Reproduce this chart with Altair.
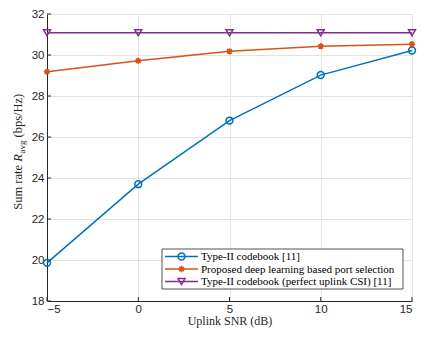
import altair as alt
import pandas as pd

# ---- data ----
snr = [-5, 0, 5, 10, 15]
type2 = [19.86, 23.70, 26.80, 29.02, 30.22]
proposed = [29.18, 29.72, 30.18, 30.43, 30.53]
perfect = [31.08, 31.08, 31.08, 31.08, 31.08]
labels = [
    "Type-II codebook [11]",
    "Proposed deep learning based port selection",
    "Type-II codebook (perfect uplink CSI) [11]",
]
colors = ["#0072BD", "#D95319", "#7E2F8E"]
x_ticks = [-5, 0, 5, 10, 15]
y_ticks = [18, 20, 22, 24, 26, 28, 30, 32]

ASTERISK = "M0,-1L0,1M-1,0L1,0M-0.72,-0.72L0.72,0.72M-0.72,0.72L0.72,-0.72"
shapes = ["circle", ASTERISK, "triangle-down"]
sizes = [48, 40, 48]

W, H = 365, 287
AX = "#262626"

xs = alt.Scale(domain=[-5, 15], nice=False, zero=False)
ys = alt.Scale(domain=[18, 32], nice=False, zero=False)
x_axis = alt.Axis(values=x_ticks, title="Uplink SNR (dB)", labelPadding=2,
                  titlePadding=1, grid=True, format="d")
y_axis = alt.Axis(values=y_ticks, title=None, labelPadding=3, grid=True, format="d")

X = alt.X("snr:Q", scale=xs, axis=x_axis)
Y = alt.Y("rate:Q", scale=ys, axis=y_axis)

one = pd.DataFrame({"a": [0]})
layers = []

# inward tick marks
layers.append(alt.Chart(pd.DataFrame({"snr": x_ticks})).mark_rule(color=AX, strokeWidth=1)
              .encode(x=X, y=alt.value(H), y2=alt.value(H - 4)))
layers.append(alt.Chart(pd.DataFrame({"rate": y_ticks})).mark_rule(color=AX, strokeWidth=1)
              .encode(y=Y, x=alt.value(0), x2=alt.value(4)))

series = [type2, proposed, perfect]
for i, vals in enumerate(series):
    df = pd.DataFrame({"snr": snr, "rate": vals})
    base = alt.Chart(df)
    layers.append(base.mark_line(color=colors[i], strokeWidth=1.5).encode(x=X, y=Y))
    layers.append(base.mark_point(shape=shapes[i], filled=False, color=colors[i],
                                  size=sizes[i], strokeWidth=1.5, opacity=1)
                  .encode(x=X, y=Y))

# manual legend
LX0, LX1, LY0, LY1 = 115, 356, 235, 275
layers.append(alt.Chart(one).mark_rect(fill="white", stroke=AX, strokeWidth=0.8)
              .encode(x=alt.value(LX0), x2=alt.value(LX1), y=alt.value(LY0), y2=alt.value(LY1)))
rows = [242.5, 255.0, 267.5]
for i in range(3):
    ry = rows[i]
    layers.append(alt.Chart(one).mark_rule(color=colors[i], strokeWidth=1.5)
                  .encode(x=alt.value(118), x2=alt.value(151), y=alt.value(ry)))
    layers.append(alt.Chart(one).mark_point(shape=shapes[i], filled=False, color=colors[i],
                                            size=sizes[i], strokeWidth=1.5, opacity=1)
                  .encode(x=alt.value(134.5), y=alt.value(ry)))
    layers.append(alt.Chart(one).mark_text(align="left", baseline="middle",
                                           font="Liberation Serif", fontSize=11, color="black")
                  .encode(x=alt.value(154), y=alt.value(ry + 0.5), text=alt.value(labels[i])))

# y-axis title built from pieces (Sum rate R_avg (bps/Hz))
TX = -25
tstyle = dict(angle=270, align="left", baseline="alphabetic", font="Liberation Serif", color=AX)
layers.append(alt.Chart(one).mark_text(fontSize=12.5, **tstyle)
              .encode(x=alt.value(TX), y=alt.value(195.7), text=alt.value("Sum rate")))
layers.append(alt.Chart(one).mark_text(fontSize=12.5, fontStyle="italic", **tstyle)
              .encode(x=alt.value(TX), y=alt.value(147.8), text=alt.value("R")))
layers.append(alt.Chart(one).mark_text(fontSize=9, **tstyle)
              .encode(x=alt.value(TX + 3), y=alt.value(139.6), text=alt.value("avg")))
layers.append(alt.Chart(one).mark_text(fontSize=12.5, **tstyle)
              .encode(x=alt.value(TX), y=alt.value(123.5), text=alt.value("(bps/Hz)")))

chart = (
    alt.layer(*layers)
    .properties(width=W, height=H, autosize=alt.AutoSizeParams(type="none"),
                padding={"left": 39, "top": 6, "right": 5, "bottom": 28},
                background="white")
    .configure_view(stroke=None)
    .configure_axis(gridColor="#e3e3e3", gridWidth=1, domainColor=AX, domainWidth=1,
                    ticks=False, labelFont="Liberation Sans", labelFontSize=11.5,
                    labelColor=AX, titleFont="Liberation Serif", titleFontSize=12,
                    titleColor=AX, titleFontWeight="normal")
)
chart.save("out.html", embed_options={"renderer": "svg", "actions": False})
